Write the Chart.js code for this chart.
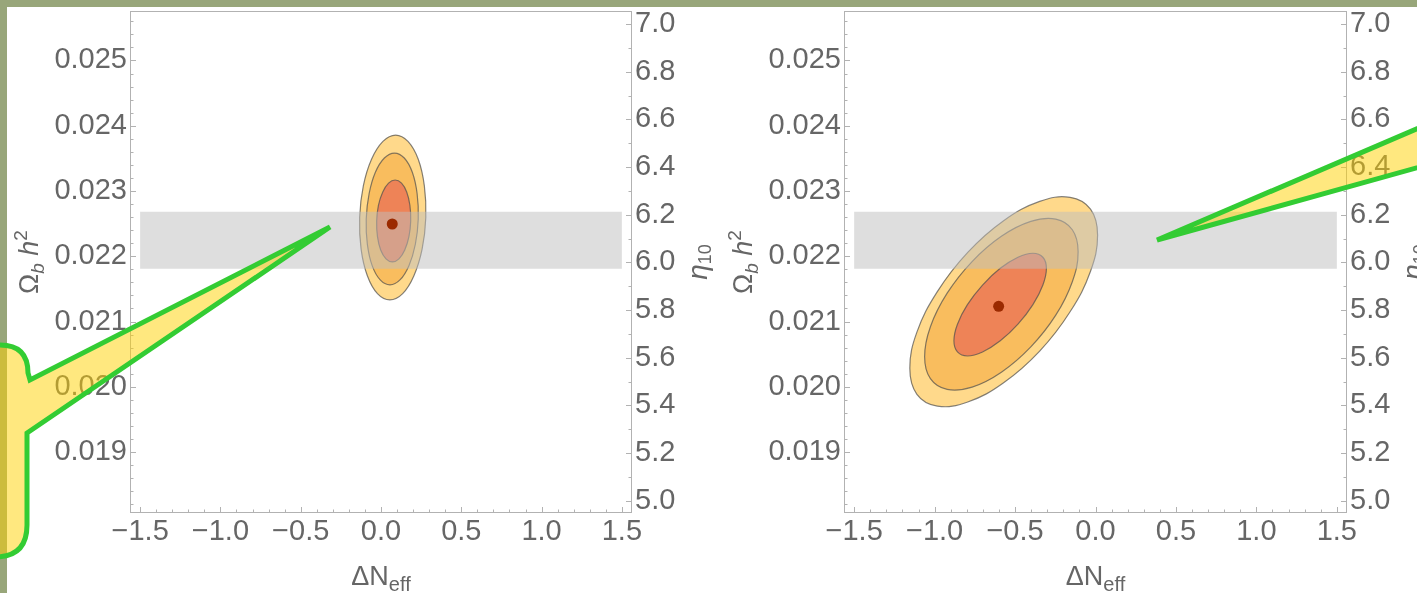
<!DOCTYPE html>
<html>
<head>
<meta charset="utf-8">
<title>BBN contours</title>
<script src="https://cdn.jsdelivr.net/npm/chart.js@4.4.1/dist/chart.umd.min.js"></script>
<style>
  html, body { margin: 0; padding: 0; }
  body { position: relative; width: 1417px; height: 593px; overflow: hidden; background: #fff; }
  .edge { position: absolute; background: #98a67a; }
  #edgeTop { left: 0; top: 0; width: 1417px; height: 7px; }
  #edgeLeft { left: 0; top: 0; width: 7px; height: 593px; }
  canvas { position: absolute; top: 0; }
  #panelA { left: 0; }
  #panelB { left: 714px; }
  #callouts { position: absolute; left: 0; top: 0; }
</style>
</head>
<body>
<div class="edge" id="edgeTop"></div>
<div class="edge" id="edgeLeft"></div>
<canvas id="panelA" width="730" height="593"></canvas>
<canvas id="panelB" width="703" height="593"></canvas>
<svg id="callouts" width="1417" height="593">
  <path d="M-40,345 H0 Q28,345 28,373 L30,380 L330,227 L27,433 L27,525 Q27,557 -5,557 H-40 Z"
        fill="rgba(255,210,0,0.5)" stroke="#33cc33" stroke-width="5"/>
  <path d="M1157,240 L1517,86 L1517,140 Z"
        fill="rgba(255,210,0,0.5)" stroke="#33cc33" stroke-width="5"/>
</svg>
<script>
// axis ranges (eta_10 = 273.9 * Omega_b h^2)
const etaPerOmega = 273.9;
const xRange = [-1.56, 1.56];
const omegaRange = [0.018074, 0.02575];

// horizontal grey band
const bandX = [-1.5, 1.5];
const bandOmega = [0.02181, 0.02268];

// left panel: best fit and the three contours
const leftBest = [0.07, 0.022494];
const leftOuterX = [0.279, 0.270, 0.232, 0.168, 0.091, 0.012, -0.059, -0.110, -0.133, -0.124, -0.085, -0.022, 0.055, 0.135, 0.205, 0.256];
const leftOuterY = [0.022594, 0.023078, 0.023486, 0.023760, 0.023857, 0.023760, 0.023486, 0.023078, 0.022594, 0.022110, 0.021702, 0.021428, 0.021331, 0.021428, 0.021702, 0.022110];
const leftMidX = [0.232, 0.225, 0.195, 0.145, 0.084, 0.021, -0.035, -0.074, -0.092, -0.085, -0.055, -0.005, 0.056, 0.118, 0.174, 0.214];
const leftMidY = [0.022571, 0.022958, 0.023286, 0.023505, 0.023581, 0.023505, 0.023286, 0.022958, 0.022571, 0.022184, 0.021856, 0.021637, 0.021561, 0.021637, 0.021856, 0.022184];
const leftInnerX = [0.185, 0.180, 0.160, 0.128, 0.088, 0.047, 0.011, -0.016, -0.027, -0.022, -0.002, 0.031, 0.071, 0.112, 0.148, 0.174];
const leftInnerY = [0.022540, 0.022781, 0.022984, 0.023120, 0.023168, 0.023120, 0.022984, 0.022781, 0.022540, 0.022300, 0.022096, 0.021960, 0.021913, 0.021960, 0.022096, 0.022300];

// right panel
const rightBest = [-0.602, 0.021233];
const rightOuterX = [0.013, -0.031, -0.158, -0.347, -0.571, -0.794, -0.983, -1.110, -1.154, -1.110, -0.983, -0.794, -0.571, -0.347, -0.158, -0.031];
const rightOuterY = [0.022325, 0.021770, 0.021149, 0.020547, 0.020062, 0.019767, 0.019704, 0.019885, 0.020283, 0.020837, 0.021458, 0.022060, 0.022545, 0.022840, 0.022903, 0.022722];
const rightMidX = [-0.108, -0.144, -0.247, -0.402, -0.585, -0.767, -0.922, -1.026, -1.062, -1.026, -0.922, -0.767, -0.585, -0.402, -0.247, -0.144];
const rightMidY = [0.022069, 0.021610, 0.021097, 0.020612, 0.020224, 0.019996, 0.019961, 0.020125, 0.020462, 0.020921, 0.021434, 0.021919, 0.022306, 0.022534, 0.022569, 0.022406];
const rightInnerX = [-0.305, -0.327, -0.389, -0.482, -0.592, -0.702, -0.796, -0.858, -0.880, -0.858, -0.796, -0.702, -0.592, -0.482, -0.389, -0.327];
const rightInnerY = [0.021815, 0.021559, 0.021259, 0.020959, 0.020704, 0.020534, 0.020472, 0.020534, 0.020704, 0.020959, 0.021259, 0.021559, 0.021815, 0.021985, 0.022046, 0.021985];

const GREY = '#666666';
const FAMILY = '"Liberation Sans", Arial, sans-serif';

const pts = (xs, ys) => xs.map((x, i) => ({ x, y: ys[i] }));

// close the contour curves smoothly (same trick the radar chart uses)
const closeLoops = {
  id: 'closeLoops',
  afterDatasetUpdate(chart, args) {
    const line = args.meta.dataset;
    if (line && chart.data.datasets[args.index].closed) {
      line._loop = true;
      line._fullLoop = true;
      line._pointsUpdated = false;
      delete line._segments;
      delete line._path;
    }
  }
};

// frame + inward major/minor ticks
const frameTicks = {
  id: 'frameTicks',
  afterDraw(chart) {
    const { ctx, chartArea: a, scales } = chart;
    ctx.save();
    ctx.strokeStyle = '#b2b2b2';
    ctx.lineWidth = 1;
    ctx.strokeRect(a.left, a.top, a.right - a.left, a.bottom - a.top);
    const mark = (scale, sub, side) => {
      const t = scale.ticks.map(k => k.value);
      const step = t[1] - t[0], minor = step / sub;
      const lo = t[0] - step, hi = t[t.length - 1] + step;
      for (let i = 0; lo + i * minor <= hi + 1e-12; i++) {
        const v = lo + i * minor;
        if (v < scale.min || v > scale.max) continue;
        const len = i % sub === 0 ? 5.5 : 3;
        const p = Math.round(scale.getPixelForValue(v)) + 0.5;
        ctx.beginPath();
        if (side === 'bottom') { ctx.moveTo(p, a.bottom); ctx.lineTo(p, a.bottom - len); }
        else if (side === 'left') { ctx.moveTo(a.left, p); ctx.lineTo(a.left + len, p); }
        else { ctx.moveTo(a.right, p); ctx.lineTo(a.right - len, p); }
        ctx.stroke();
      }
    };
    mark(scales.x, 5, 'bottom');
    mark(scales.y, 5, 'left');
    mark(scales.eta, 2, 'right');
    ctx.restore();
  }
};

function runFont(r) { return (r.italic ? 'italic ' : '') + r.size + 'px ' + FAMILY; }
function drawRuns(ctx, runs) {
  let w = 0;
  runs.forEach(r => { ctx.font = runFont(r); w += ctx.measureText(r.t).width; });
  let x = -w / 2;
  runs.forEach(r => {
    ctx.font = runFont(r);
    ctx.fillText(r.t, x, r.dy || 0);
    x += ctx.measureText(r.t).width;
  });
}

const axisTitles = {
  id: 'axisTitles',
  afterDraw(chart) {
    const { ctx, chartArea: a } = chart;
    const cx = (a.left + a.right) / 2, cy = (a.top + a.bottom) / 2;
    ctx.save();
    ctx.fillStyle = GREY;
    ctx.textBaseline = 'alphabetic';
    ctx.textAlign = 'left';
    ctx.save();
    ctx.translate(cx, 584.5);
    drawRuns(ctx, [{ t: 'ΔN', size: 27 }, { t: 'eff', size: 20, dy: 6 }]);
    ctx.restore();
    ctx.save();
    ctx.translate(a.left - 93, cy);
    ctx.rotate(-Math.PI / 2);
    drawRuns(ctx, [{ t: 'Ω', size: 27 }, { t: 'b', size: 19, italic: true, dy: 6 }, { t: ' ', size: 27 },
                   { t: 'h', size: 27, italic: true }, { t: '2', size: 19, dy: -11 }]);
    ctx.restore();
    ctx.save();
    ctx.translate(a.right + 75, cy);
    ctx.rotate(-Math.PI / 2);
    drawRuns(ctx, [{ t: 'η', size: 28, italic: true }, { t: '10', size: 18, dy: 4 }]);
    ctx.restore();
    ctx.restore();
  }
};

function noPad(s) { s.paddingTop = s.paddingBottom = s.paddingLeft = s.paddingRight = 0; }

function ring(xs, ys, color) {
  return {
    data: pts(xs, ys), closed: true, fill: 'shape', tension: 0.4,
    backgroundColor: color, borderColor: 'rgba(80,80,80,0.7)', borderWidth: 1.2, pointRadius: 0
  };
}

function panel(id, p, rightW) {
  const tickFont = { family: FAMILY, size: 29 };
  return new Chart(document.getElementById(id), {
    type: 'line',
    data: {
      datasets: [
        { data: [{ x: p.best[0], y: p.best[1] }], showLine: false, pointRadius: 5.5,
          pointBackgroundColor: '#9b2a00', pointBorderWidth: 0 },
        { data: pts([bandX[0], bandX[1], bandX[1], bandX[0]], [bandOmega[0], bandOmega[0], bandOmega[1], bandOmega[1]]),
          closed: true, fill: 'shape', tension: 0, backgroundColor: 'rgba(190,190,190,0.5)',
          borderColor: 'rgba(0,0,0,0)', borderWidth: 0, pointRadius: 0 },
        ring(p.innerX, p.innerY, '#ee8357'),
        ring(p.midX, p.midY, '#f9bd5e'),
        ring(p.outerX, p.outerY, '#ffd98b')
      ]
    },
    options: {
      responsive: false,
      animation: false,
      events: [],
      layout: { padding: { top: 11.5, left: 0, right: 0, bottom: 0 }, autoPadding: false },
      plugins: { legend: { display: false }, tooltip: { enabled: false } },
      scales: {
        x: {
          type: 'linear', position: 'bottom', min: xRange[0], max: xRange[1],
          grid: { display: false, drawTicks: false }, border: { display: false },
          ticks: { stepSize: 0.5, includeBounds: false, autoSkip: false, padding: 2.5, font: tickFont, color: GREY,
                   callback: v => (v < -1e-9 ? '\u2212' : '') + Math.abs(v).toFixed(1) },
          afterFit(s) { s.height = 80.5; noPad(s); }
        },
        y: {
          type: 'linear', position: 'left', min: omegaRange[0], max: omegaRange[1],
          grid: { display: false, drawTicks: false }, border: { display: false },
          ticks: { stepSize: 0.001, includeBounds: false, autoSkip: false, padding: 3.5, font: tickFont, color: GREY,
                   callback: v => v.toFixed(3) },
          afterFit(s) { s.width = 130.5; noPad(s); }
        },
        eta: {
          type: 'linear', axis: 'y', position: 'right',
          min: omegaRange[0] * etaPerOmega, max: omegaRange[1] * etaPerOmega,
          grid: { display: false, drawTicks: false }, border: { display: false },
          ticks: { stepSize: 0.2, includeBounds: false, autoSkip: false, maxTicksLimit: 20, padding: 3.5,
                   font: tickFont, color: GREY, callback: v => v.toFixed(1) },
          afterFit(s) { s.width = rightW; noPad(s); }
        }
      }
    },
    plugins: [closeLoops, frameTicks, axisTitles]
  });
}

panel('panelA', { best: leftBest, outerX: leftOuterX, outerY: leftOuterY, midX: leftMidX, midY: leftMidY,
                  innerX: leftInnerX, innerY: leftInnerY }, 98.5);
panel('panelB', { best: rightBest, outerX: rightOuterX, outerY: rightOuterY, midX: rightMidX, midY: rightMidY,
                  innerX: rightInnerX, innerY: rightInnerY }, 70.5);
</script>
</body>
</html>
